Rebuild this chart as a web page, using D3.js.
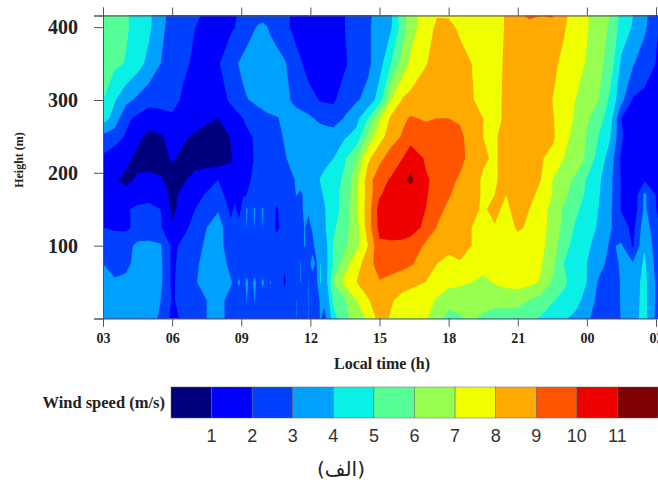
<!DOCTYPE html>
<html>
<head>
<meta charset="utf-8">
<script src="https://cdnjs.cloudflare.com/ajax/libs/d3/7.8.5/d3.min.js"></script>
<style>
html,body{margin:0;padding:0;background:#fff;overflow:hidden}
svg{display:block}
</style>
</head>
<body>
<svg id="c" width="658" height="485"></svg>
<script>
const times = [3,3.5,4,4.5,5,5.5,6,6.5,7,7.5,8,
  8.55,8.72,8.9,9.07,9.24,9.41,9.58,9.75,9.93,10.1,10.27,10.54,10.88,11.23,11.4,11.57,11.75,11.92,12.09,12.26,12.43,12.6,12.8,13,
  13.5,14,14.5,15,15.5,16,16.35,17,17.5,18,18.5,19,19.5,20,20.5,21,21.5,22,22.5,23,23.5,24,24.5,25,25.5,26,26.5,27.1];
const heights = [0,25,50,75,100,125,150,170,190,220,250,275,300,350,400,416];
const speed0   = [3.5,3.5,3.5,3.5,3.3,2.9,1.7,2.2,2.6,3.0,3.3,
  2.7,2.6,2.6,2.6,2.6,2.6,2.6,2.6,2.6,2.5,2.5,2.4,2.4,2.6,3.02,2.6,2.6,3.02,2.6,2.6,3.05,2.7,3.4,4.6,
  5.8,6.5,7.2,8.4,7.9,7.5,7.4,7.1,6.5,5.6,5.9,6.2,5.8,5.6,5.5,5.4,5.2,4.9,4.4,4.1,3.8,3.2,2.5,2.0,3.1,3.6,4.4,2.5];
const speed25  = [3.5,3.4,3.4,3.4,3.3,3.0,1.9,2.3,2.6,3.0,3.3,
  2.7,2.6,2.7,2.6,3.02,2.7,3.02,2.7,2.8,2.6,2.7,2.5,2.3,2.6,3.02,2.6,2.6,3.02,2.6,2.6,3.1,3.2,3.9,5.2,
  5.9,7.0,7.9,8.6,8.1,7.7,7.5,7.4,6.9,6.4,6.4,6.5,6.4,6.3,6.4,6.4,6.0,5.6,5.1,4.7,4.3,3.7,2.7,2.3,3.1,3.6,4.3,2.6];
const speed50  = [3.3,3.1,3.2,3.5,3.4,3.2,1.8,2.6,2.9,3.5,3.7,
  3.1,2.8,3.1,2.8,3.12,2.8,3.12,2.8,3.1,2.8,3.05,2.5,1.9,2.6,2.7,3.03,2.6,3.02,2.7,2.7,4.1,3.3,4.4,6.0,
  7.3,8.0,8.6,8.9,8.6,8.4,8.3,8.0,7.5,7.3,7.2,7.0,6.7,7.1,7.3,7.4,7.3,6.9,5.9,5.2,4.5,4.0,2.9,2.4,3.1,3.5,4.3,2.6];
const speed75  = [3.0,2.7,2.8,3.3,3.1,3.2,1.8,2.4,2.8,3.4,3.8,
  2.6,2.5,2.6,2.5,2.7,2.5,2.7,2.5,2.6,2.4,2.5,2.3,2.1,2.5,2.6,3.03,2.6,2.8,3.2,2.9,4.05,3.5,4.2,5.1,
  6.5,7.7,8.4,9.7,9.6,9.3,9.1,8.6,8.0,7.6,7.95,7.7,7.5,7.6,7.6,7.5,7.4,7.1,6.3,5.0,4.5,4.0,3.4,2.7,3.1,3.1,4.2,2.4];
const speed100 = [2.3,2.4,2.7,3.2,3.2,3.1,1.8,2.2,2.6,3.2,3.5,
  2.3,2.3,2.3,2.3,2.4,2.3,2.4,2.3,2.3,2.3,2.3,2.2,2.0,2.6,2.7,2.8,3.04,2.8,2.8,3.3,3.4,3.6,4.2,5.1,
  5.8,6.7,8.0,9.8,9.8,9.8,9.8,8.8,8.5,8.4,8.2,8.0,7.7,7.7,7.6,7.7,7.7,7.3,6.5,5.4,4.6,4.2,3.6,2.9,3.1,1.9,3.9,2.3];
const speed125 = [2.0,1.9,1.8,2.3,2.5,2.1,1.1,1.8,2.3,3.0,3.5,
  2.2,2.2,2.2,2.3,3.02,2.5,3.02,2.5,3.02,2.4,2.3,1.9,2.2,2.6,2.7,2.8,3.03,2.8,3.1,3.4,3.5,3.8,4.4,4.8,
  5.7,6.6,8.5,10.3,10.5,10.4,10.2,9.9,8.95,8.6,8.3,8.0,7.6,7.95,7.7,8.1,7.9,7.5,6.5,5.8,4.9,4.4,3.9,3.1,2.5,1.7,3.6,2.1];
const speed150 = [1.5,1.5,1.9,2.2,2.3,2.0,0.8,1.4,2.0,2.5,2.9,
  1.8,2.1,1.8,2.2,3.15,2.4,3.15,2.4,3.15,2.4,2.5,1.9,2.5,2.7,2.8,2.95,3.04,3.1,3.3,3.5,3.6,3.9,4.3,4.6,
  5.4,6.9,8.5,10.4,10.6,10.7,10.6,10.0,9.3,8.8,8.5,8.2,7.9,8.2,7.8,8.4,8.0,7.6,6.6,5.9,5.2,4.6,4.0,3.2,1.9,1.3,3.2,1.8];
const speed170 = [1.3,1.2,1.3,1.5,1.6,1.4,0.8,1.2,1.7,2.1,2.4,
  1.5,1.9,1.6,1.95,2.0,2.1,2.2,2.3,2.3,2.4,2.4,2.3,2.6,2.9,3.02,2.9,3.1,3.4,3.5,3.6,3.8,4.1,4.5,4.7,
  5.3,6.8,8.4,9.9,10.4,10.7,10.6,10.1,9.6,9.1,8.6,8.3,7.9,8.0,8.0,8.4,8.2,7.8,7.0,6.2,5.6,4.8,4.1,3.3,1.9,1.2,3.2,1.7];
const speed190 = [1.4,1.1,0.8,1.1,1.3,1.1,0.7,0.9,1.3,1.6,2.0,
  1.2,1.4,1.6,1.7,1.9,2.0,2.2,2.3,2.4,2.5,2.6,2.7,2.8,2.95,3.05,3.2,3.3,3.5,3.6,3.7,4.05,4.2,4.4,4.6,
  5.2,6.7,8.5,9.7,10.1,10.8,11.2,10.1,9.8,9.4,8.8,8.3,7.9,7.9,8.3,8.4,8.3,8.0,7.0,6.4,5.8,4.9,4.2,3.3,1.9,1.2,1.9,1.6];
const speed220 = [1.8,1.4,1.2,0.8,0.5,0.6,1.1,0.8,0.6,0.5,0.4,
  0.95,1.15,1.35,1.55,1.7,1.85,2.05,2.15,2.3,2.45,2.55,2.7,2.95,3.15,3.25,3.3,3.4,3.5,3.55,3.6,3.65,3.75,3.85,4.0,
  4.9,6.0,7.8,8.7,9.5,10.0,10.6,9.9,9.7,9.6,9.4,8.5,8.1,7.9,8.3,8.5,8.5,8.1,7.7,7.0,6.7,5.8,4.6,3.6,1.8,1.0,1.7,1.7];
const speed250 = [2.8,2.5,1.9,1.2,0.8,0.9,1.3,1.1,0.9,0.6,0.5,
  1.05,1.25,1.45,1.65,1.8,1.95,2.05,2.2,2.35,2.5,2.65,2.85,3.05,3.25,3.35,3.42,3.5,3.57,3.6,3.6,3.6,3.62,3.65,3.7,
  3.9,4.3,6.2,7.6,8.5,9.1,9.6,9.4,9.4,9.4,9.3,8.4,8.0,7.9,8.3,8.5,8.6,8.4,8.2,7.3,6.7,5.9,5.0,4.1,2.2,1.0,1.7,1.8];
const speed275 = [4.5,3.6,2.2,1.8,1.4,1.7,1.9,1.6,1.4,1.2,1.0,
  1.55,1.65,1.8,2.0,2.2,2.35,2.45,2.6,2.7,2.8,2.85,2.95,3.15,3.35,3.4,3.4,3.3,3.2,3.05,2.9,2.75,2.6,2.45,2.3,
  3.1,3.7,5.0,6.9,8.2,8.8,9.1,8.9,9.0,9.0,8.8,8.4,8.0,7.7,8.2,8.5,8.5,8.4,8.1,7.4,6.9,6.2,5.4,4.5,2.0,1.5,1.8,1.7];
const speed300 = [5.0,4.1,3.3,2.8,2.4,2.3,2.2,1.9,1.8,1.6,1.6,
  2.15,2.35,2.6,2.8,2.95,3.05,3.15,3.25,3.35,3.45,3.5,3.45,3.25,2.9,2.7,2.55,2.4,2.25,2.15,2.05,1.95,1.9,1.9,1.9,
  2.4,2.9,3.3,4.5,7.0,8.1,8.3,8.5,8.6,8.7,8.5,8.1,7.6,7.7,8.2,8.5,8.5,8.4,8.0,7.5,7.0,6.5,6.0,4.8,3.3,1.9,1.8,1.7];
const speed350 = [5.5,5.2,4.95,4.4,3.7,3.0,2.6,2.1,1.9,1.7,1.9,
  2.65,2.85,3.05,3.25,3.4,3.55,3.65,3.7,3.7,3.6,3.5,3.35,3.1,2.6,2.3,2.1,1.9,1.75,1.65,1.55,1.5,1.5,1.5,1.5,
  1.9,2.4,2.8,3.6,5.0,6.4,7.2,7.95,8.3,8.5,8.4,8.0,7.6,7.6,8.2,8.5,8.6,8.5,8.2,7.8,7.4,6.9,6.3,5.6,3.8,3.1,2.4,1.9];
const speed400 = [5.7,5.4,5.1,4.7,4.2,3.2,2.7,2.2,2.0,1.8,1.6,
  1.85,2.0,2.1,2.3,2.55,2.75,2.95,3.1,3.2,3.05,2.85,2.6,2.25,1.85,1.65,1.55,1.45,1.4,1.4,1.4,1.4,1.45,1.5,1.6,
  2.0,2.4,2.9,3.3,3.9,5.5,6.6,7.5,8.2,8.3,7.8,7.5,7.4,7.6,8.1,8.5,8.8,8.9,8.6,8.1,7.5,7.1,6.4,5.9,4.6,3.9,3.2,2.0];
const speed416 = [5.6,5.4,5.1,4.7,4.2,3.3,2.7,2.3,2.1,1.9,1.7,
  1.85,1.95,2.05,2.2,2.4,2.5,2.6,2.65,2.7,2.65,2.55,2.45,2.2,1.9,1.75,1.65,1.55,1.5,1.45,1.4,1.4,1.45,1.5,1.6,
  2.0,2.4,2.8,3.4,3.8,5.7,6.4,7.6,7.95,7.9,7.6,7.3,7.0,7.6,8.1,8.9,9.1,9.0,9.1,8.2,7.6,7.1,6.4,6.0,4.7,4.0,3.3,2.0];
const speedRows = [speed0,speed25,speed50,speed75,speed100,speed125,speed150,speed170,speed190,speed220,speed250,speed275,speed300,speed350,speed400,speed416];

const thresholds = [1,2,3,4,5,6,7,8,9,10,11];
const bandColors = ["#00007f","#0000ff","#0040ff","#00a0ff","#0af0e6","#55ff96","#96ff50","#f0ff00","#ffaa00","#ff5500","#ee0000","#7f0000"];
const xTickHours = [3,6,9,12,15,18,21,24,27];
const xTickLabels = ["03","06","09","12","15","18","21","00","03"];
const yTickValues = [0,100,200,300,400,416];
const yLabelValues = [100,200,300,400];

const svg = d3.select("#c");
const serif = "'Liberation Serif', serif";
const x = d3.scaleLinear().domain([3,27]).range([103,656]);
const y = d3.scaleLinear().domain([0,416]).range([318.5,15.5]);

const nx = times.length, ny = heights.length;
const colIndex = d3.scaleLinear().domain(d3.range(nx)).range(times);
const rowIndex = d3.scaleLinear().domain(d3.range(ny)).range(heights);
const flat = speedRows.flat();
const contour = d3.contours().size([nx,ny]).smooth(true).thresholds(thresholds);
const toPlot = d3.geoTransform({point(px,py){
  const ix = Math.max(0,Math.min(nx-1,px-0.5));
  const iy = Math.max(0,Math.min(ny-1,py-0.5));
  this.stream.point(x(colIndex(ix)), y(rowIndex(iy)));
}});
const path = d3.geoPath(toPlot);

svg.append("rect").attr("x",x(3)).attr("y",y(416)).attr("width",x(27.1)-x(3)).attr("height",y(0)-y(416)).attr("fill",bandColors[0]);
svg.append("g").selectAll("path").data(contour(flat)).join("path")
  .attr("d",path)
  .attr("fill",(d,i)=>bandColors[i+1]);

const axisColor = "#555";
const axB = svg.append("g").attr("transform",`translate(0,${y(0)})`)
  .call(d3.axisBottom(x).tickValues(xTickHours).tickFormat((d,i)=>xTickLabels[i]).tickSizeOuter(0).tickSize(8).tickPadding(7));
const axT = svg.append("g").attr("transform",`translate(0,${y(416)})`)
  .call(d3.axisTop(x).tickValues(xTickHours).tickFormat("").tickSizeOuter(0).tickSize(8));
const axL = svg.append("g").attr("transform",`translate(${x(3)},0)`)
  .call(d3.axisLeft(y).tickValues(yTickValues).tickFormat(d=>yLabelValues.includes(d)?d:"").tickSizeOuter(0).tickSize(9).tickPadding(16));
[axB,axT,axL].forEach(a=>{a.selectAll("path,line").attr("stroke",axisColor).attr("stroke-width",1);});
axB.selectAll("text").attr("font-family",serif).attr("font-weight","bold").attr("font-size",14).attr("fill","#222");
axL.selectAll("text").attr("font-family",serif).attr("font-weight","bold").attr("font-size",20).attr("fill","#222");

svg.append("text").attr("x",382).attr("y",369).attr("text-anchor","middle")
  .attr("font-family",serif).attr("font-weight","bold").attr("font-size",16).attr("fill","#222").text("Local time (h)");
svg.append("text").attr("transform","translate(23,160) rotate(-90)").attr("text-anchor","middle")
  .attr("font-family",serif).attr("font-weight","bold").attr("font-size",12).attr("fill","#222").text("Height (m)");
svg.append("text").attr("x",165).attr("y",408).attr("text-anchor","end")
  .attr("font-family",serif).attr("font-weight","bold").attr("font-size",16.5).attr("fill","#222").text("Wind speed (m/s)");

const legendX = d3.scaleLinear().domain([0,12]).range([171,658]);
const legend = svg.append("g");
legend.selectAll("rect").data(bandColors).join("rect")
  .attr("x",(d,i)=>legendX(i)).attr("y",387).attr("width",legendX(1)-legendX(0)).attr("height",31)
  .attr("fill",d=>d).attr("stroke","#666").attr("stroke-width",0.5);
legend.selectAll("text").data(thresholds).join("text")
  .attr("x",d=>legendX(d)).attr("y",442).attr("text-anchor","middle")
  .attr("font-family","'Liberation Sans', Arial, sans-serif").attr("font-size",18).attr("fill","#333").text(d=>d);

svg.append("text").attr("x",341).attr("y",476).attr("text-anchor","middle").attr("direction","rtl")
  .attr("font-family","'DejaVu Sans', serif").attr("font-size",20).attr("fill","#222").text("(الف)");
</script>
</body>
</html>
